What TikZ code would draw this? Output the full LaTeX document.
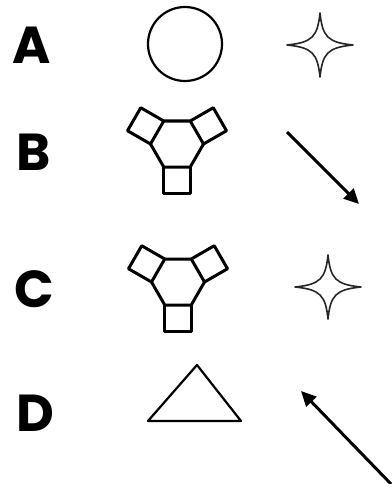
\documentclass[tikz,border=0pt]{standalone}
\usepackage{fontspec}
\setmainfont{Poppins}
\usetikzlibrary{arrows.meta}
\begin{document}
\begin{tikzpicture}[x=1pt,y=-1pt,
  letter/.style={font=\fontsize{52}{52}\selectfont\bfseries, inner sep=0pt, anchor=center},
  outline/.style={line width=2.2pt, black},
  hexshape/.style={line width=3pt, black, line join=round},
  starline/.style={line width=1.6pt, black!85, line join=round},
  arrowline/.style={line width=3pt, black, -{Triangle[length=15pt,width=14pt]}}]
\useasboundingbox (0,0) rectangle (391,484);
% letters
\node[letter] (lA) at (32,45) {A};
\node[letter] (lB) at (34,152) {B};
\node[letter] (lC) at (34,289) {C};
\node[letter] (lD) at (35,413) {D};
% circle
\draw[outline] (185,44) circle (37);
% stars
\foreach \cx/\cy in {320/45, 328/287}{
  \begin{scope}[shift={(\cx,\cy)}]
  \draw[starline] (0,-32) .. controls (2.5,-8) and (8,-2.5) .. (33,0)
    .. controls (8,2.5) and (2.5,8) .. (0,32)
    .. controls (-2.5,8) and (-8,2.5) .. (-33,0)
    .. controls (-8,-2.5) and (-2.5,-8) .. cycle;
  \end{scope}}
% hexagon shapes
\foreach \cx/\cy in {177/144, 178/282}{
  \begin{scope}[shift={(\cx,\cy)}]
  \draw[hexshape] (-13.25,-23) -- (13.25,-23) -- (26.5,0) -- (13.25,23) -- (-13.25,23) -- (-26.5,0) -- cycle;
  \draw[hexshape] (-13.25,23) -- (-13.25,49.5) -- (13.25,49.5) -- (13.25,23);
  \draw[hexshape] (-26.5,0) -- (-49.5,-13.25) -- (-36.25,-36.25) -- (-13.25,-23);
  \draw[hexshape] (26.5,0) -- (49.5,-13.25) -- (36.25,-36.25) -- (13.25,-23);
  \end{scope}}
% triangle
\draw[outline, line join=round] (197,365) -- (241,421) -- (148,421) -- cycle;
% arrows
\coordinate (b1) at (287,132);
\coordinate (b2) at (359,204);
\draw[arrowline] (b1) -- (b2);
\coordinate (d1) at (391,484);
\coordinate (d2) at (301,391);
\draw[arrowline] (d1) -- (d2);
\end{tikzpicture}
\end{document}
